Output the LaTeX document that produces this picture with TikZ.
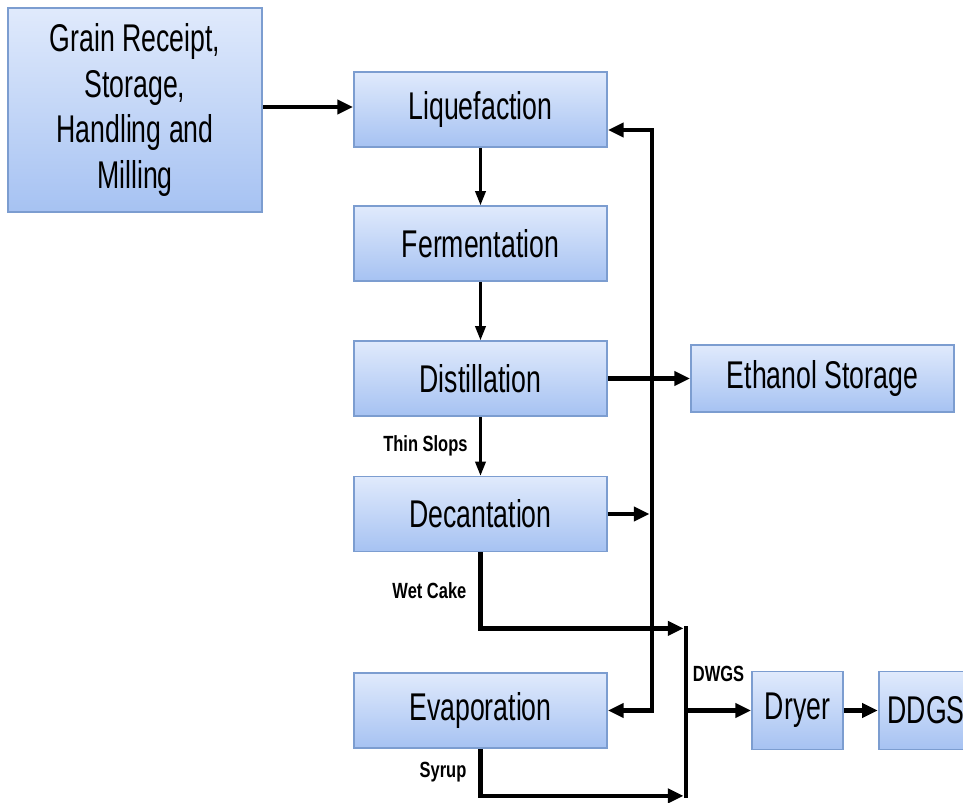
\documentclass[tikz,border=0pt]{standalone}
\usepackage{fontspec}
\setmainfont{Liberation Sans}[FakeStretch=0.69]
\newfontfamily\tagfont{Liberation Sans}[FakeStretch=0.75]
\usetikzlibrary{positioning, arrows.meta}

\definecolor{boxtop}{HTML}{E0EAFC}
\definecolor{boxbot}{HTML}{A6C2F2}
\definecolor{boxedge}{HTML}{7C9DD0}

\begin{document}
\begin{tikzpicture}[
    >={Triangle[length=9pt,width=8pt]},
    proc/.style={draw=boxedge, line width=1pt, top color=boxtop, bottom color=boxbot,
        minimum width=5.06cm, minimum height=1.5cm, inner sep=2pt,
        font=\fontsize{22}{26}\selectfont, align=center},
    thin/.style={->, line width=1.3pt, >={Triangle[length=8pt,width=6pt]}},
    bold/.style={line width=2.6pt},
    tag/.style={font=\tagfont\bfseries\fontsize{12.5}{14}\selectfont}
]

    \useasboundingbox (-9.61,2.19) rectangle (9.65,-13.87);

    % Main column
    \node[proc] (liq) {Liquefaction};
    \node[proc, below of=liq, node distance=2.68cm] (ferm) {Fermentation};
    \node[proc, below of=ferm, node distance=2.70cm] (dist) {Distillation};
    \node[proc, below of=dist, node distance=2.71cm] (dec) {Decantation};
    \node[proc, below of=dec, node distance=3.93cm] (evap) {Evaporation};

    % Side nodes
    \node[proc, left of=liq, node distance=6.91cm, minimum width=5.08cm,
          minimum height=4.08cm, yshift=-0.01cm] (grain)
          {Grain Receipt,\\Storage,\\Handling and\\Milling};
    \node[proc, right of=dist, node distance=6.84cm, minimum width=5.26cm,
          minimum height=1.34cm] (eth) {Ethanol Storage};
    \node[proc, right of=evap, node distance=6.34cm, minimum width=1.82cm,
          minimum height=1.56cm] (dryer) {Dryer};
    \node[proc, right of=dryer, node distance=2.6cm, minimum width=1.95cm,
          minimum height=1.56cm, text width=1.6cm, align=left] (ddgs) {DDGS};

    % Helper points
    \coordinate (rtop) at ([xshift=0.88cm,yshift=-0.41cm]liq.east);
    \coordinate (rbot) at (rtop |- evap.east);
    \coordinate (jn) at ([xshift=1.56cm]evap.east);
    \coordinate (wtop) at ([yshift=-1.52cm]dec.south);
    \coordinate (sbot) at ([yshift=-0.94cm]evap.south);

    % Main flow
    \draw[bold, ->] (grain.east |- 0,0.05) -- (liq.west |- 0,0.05);
    \draw[thin] (liq) -- (ferm);
    \draw[thin] (ferm) -- (dist);
    \draw[thin] (dist) -- node[tag, left=0.12cm] {Thin Slops} (dec);
    \draw[bold, ->] (dist) -- (eth);

    % Recycle
    \draw[bold, <->] ([yshift=-0.41cm]liq.east) -| (rbot) -- (evap.east);
    \draw[bold, ->] (dec.east) -- ([xshift=-1.3pt]dec.east -| rbot);

    % Solids
    \draw[bold, ->] (dec.south) -- node[tag, left=0.12cm] {Wet Cake} (wtop)
        -- ([xshift=-1.3pt]wtop -| jn);
    \draw[bold, ->] (evap.south) -- node[tag, left=0.12cm] {Syrup} (sbot)
        -- ([xshift=-1.3pt]sbot -| jn);
    \draw[bold, line cap=rect] (wtop -| jn) -- (sbot -| jn);
    \draw[bold, ->] (jn) -- node[tag, above=0.42cm] {DWGS} (dryer);
    \draw[bold, ->] (dryer) -- (ddgs);

\end{tikzpicture}
\end{document}
